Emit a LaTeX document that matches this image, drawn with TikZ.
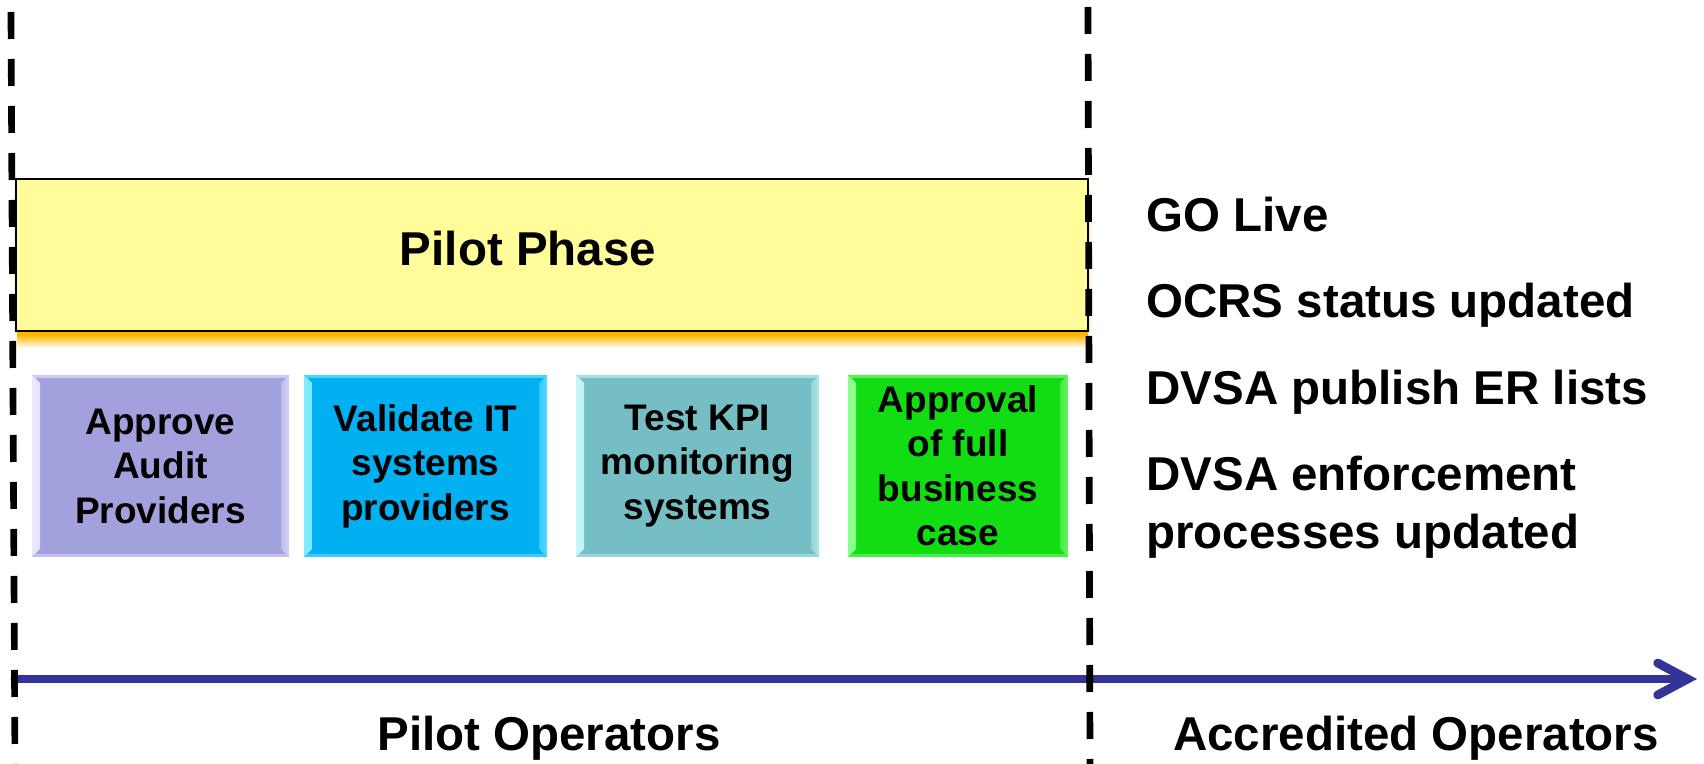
\documentclass[tikz,border=0pt]{standalone}
\usepackage{fontspec}
\setmainfont{Liberation Sans}
\usetikzlibrary{arrows.meta,calc}
\definecolor{axisblue}{HTML}{333399}
\definecolor{phaseyellow}{HTML}{FFFC99}
\definecolor{glow}{HTML}{FFB800}
\definecolor{cA}{HTML}{A3A0DE}
\definecolor{cAl}{HTML}{E8E8FF}
\definecolor{cB}{HTML}{00B0F0}
\definecolor{cBl}{HTML}{80ECFF}
\definecolor{cC}{HTML}{75BEC4}
\definecolor{cCl}{HTML}{C4F6F8}
\definecolor{cD}{HTML}{12DC12}
\definecolor{cDl}{HTML}{8CFF8C}
\newcommand{\bevelpaint}[2]{%
  \shade[left color=#2, right color=#1]
    (path picture bounding box.north west)
    -- ($(path picture bounding box.north west)+(8,8)$)
    -- ($(path picture bounding box.south west)+(8,-8)$)
    -- (path picture bounding box.south west) -- cycle;
  \shade[left color=#1!60!#2, middle color=white!40!#2, right color=#2!70!#1]
    (path picture bounding box.north east)
    -- ($(path picture bounding box.north east)+(-8,8)$)
    -- ($(path picture bounding box.south east)+(-8,-8)$)
    -- (path picture bounding box.south east) -- cycle;
  \fill[#2!60!#1]
    (path picture bounding box.north west)
    -- (path picture bounding box.north east)
    -- ($(path picture bounding box.north east)+(-3,3)$)
    -- ($(path picture bounding box.north west)+(3,3)$) -- cycle;
  \fill[#2!45!#1]
    (path picture bounding box.south west)
    -- (path picture bounding box.south east)
    -- ($(path picture bounding box.south east)+(-3,-3)$)
    -- ($(path picture bounding box.south west)+(3,-3)$) -- cycle;
}
\tikzset{
  bigtext/.style={font=\fontsize{23.75}{28.5}\selectfont\bfseries, inner sep=0pt},
  phasebox/.style={draw=black, line width=1pt, fill=phaseyellow,
    minimum width=536pt, minimum height=76pt, inner sep=0pt},
  taskbox/.style n args={2}{fill=#1, minimum height=91pt, inner sep=0pt,
    align=center, font=\fontsize{18.5}{22.25}\selectfont\bfseries,
    path picture={\bevelpaint{#1}{#2}}},
  divider/.style={line width=3.35pt, dash pattern=on 13.5pt off 10pt, black},
  axisline/.style={line width=4.4pt, axisblue, line cap=round}
}
\begin{document}
\begin{tikzpicture}[x={(0.5pt,0pt)}, y={(0pt,-0.5pt)}]
\useasboundingbox (0,0) rectangle (1704,764);
% glow under the phase bar
\fill[glow] (17,329) rectangle (1088,335);
\shade[top color=glow, bottom color=white] (17,335) rectangle (1088,348);
\shade[left color=white, right color=glow!40!white] (12,190) rectangle (17,331);
\shade[left color=glow!40!white, right color=white] (1087,190) rectangle (1092,331);
\node[phasebox] (phase) at (552,255) {};
\node[bigtext, anchor=base] (phasetxt) at (528,266) {Pilot Phase};
% task boxes
\node[taskbox={cA}{cAl}, minimum width=128.5pt] (t1) at (160.5,466) {Approve\\Audit\\Providers};
\node[taskbox={cB}{cBl}, minimum width=121.5pt] (t2) at (425.5,466) {Validate IT\\systems\\providers};
\node[taskbox={cC}{cCl}, minimum width=121.5pt] (t3) at (697.5,466) {Test KPI\\monitoring\\systems};
\node[taskbox={cD}{cDl}, minimum width=110pt] (t4) at (958,466) {Approval\\of full\\business\\case};
% right column
\node[bigtext, anchor=base west] (golive) at (1146,232) {GO Live};
\node[bigtext, anchor=base west] (ocrs) at (1146,318) {OCRS status updated};
\node[bigtext, anchor=base west] (erlists) at (1146,405) {DVSA publish ER lists};
\node[bigtext, anchor=base west] (enf1) at (1146,491) {DVSA enforcement};
\node[bigtext, anchor=base west] (enf2) at (1146,549) {processes updated};
% bottom labels
\node[bigtext, anchor=base] (pilotops) at (549,750) {Pilot Operators};
\node[bigtext, anchor=base] (accops) at (1416,750) {Accredited Operators};
% axis
\coordinate (axL) at (15,679);
\coordinate (axR) at (1697,679);
\draw[axisline, -{Straight Barb[length=15pt, width=16pt, line cap=round, line join=miter]}] (axL) -- (axR);
% dividers
\coordinate (dL1) at (11,12);
\coordinate (dL2) at (15,764);
\coordinate (dR1) at (1088,7);
\coordinate (dR2) at (1090,764);
\draw[divider] (dL1) -- (dL2);
\draw[divider] (dR1) -- (dR2);
\end{tikzpicture}
\end{document}
